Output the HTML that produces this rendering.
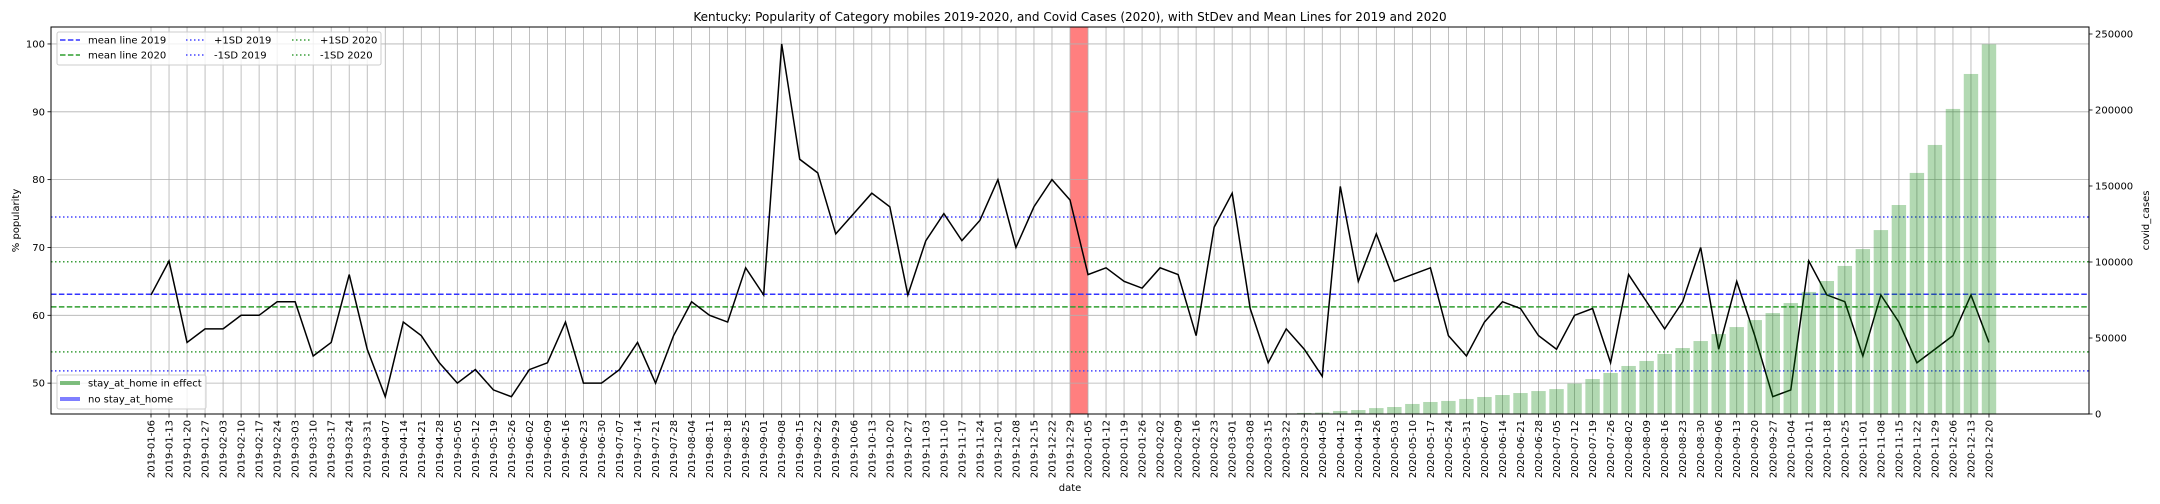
<!DOCTYPE html>
<html><head><meta charset="utf-8"><style>
html,body{margin:0;padding:0;background:#fff;}
svg{display:block;font-family:"DejaVu Sans","Liberation Sans",sans-serif;}
</style></head><body>
<svg id="chart" width="2160" height="504" xmlns="http://www.w3.org/2000/svg">
<rect width="2160" height="504" fill="#fff"/>
<g id="plot"></g>
</svg>
<script>
const startDate = "2019-01-06";
const popularity = [63,68,56,58,58,60,60,62,62,54,
56,66,55,48,59,57,53,50,52,49,
48,52,53,59,50,50,52,56,50,57,
62,60,59,67,63,100,83,81,72,75,
78,76,63,71,75,71,74,80,70,76,
80,77,66,67,65,64,67,66,57,73,
78,61,53,58,55,51,79,65,72,65,
66,67,57,54,59,62,61,57,55,60,
61,53,66,62,58,62,70,55,65,57,
48,49,68,63,62,54,63,59,53,55,
57,63,56];
const covidCases = [0,0,0,0,0,0,0,0,0,0,
0,0,0,0,0,0,0,0,0,0,
0,0,0,0,0,0,0,0,0,0,
0,0,0,0,0,0,0,0,0,0,
0,0,0,0,0,0,0,0,0,0,
0,0,0,0,0,0,0,0,0,0,
0,0,0,300,700,900,2000,2600,3900,4600,
6600,7900,8600,9900,11200,12500,13800,15100,16400,20000,
23000,27000,31600,34900,39500,43400,48000,52600,57200,61800,
66400,73000,80300,87500,97400,108500,121000,137500,158600,177000,
200700,223700,243200];
const leftTicks = [50,60,70,80,90,100];
const rightTicks = [0,50000,100000,150000,200000,250000];
const mean2019 = 63.1, plus1sd2019 = 74.5, minus1sd2019 = 51.8;
const mean2020 = 61.25, plus1sd2020 = 67.9, minus1sd2020 = 54.6;
const lockdownStartIndex = 51, lockdownEndIndex = 52;

const NS = "http://www.w3.org/2000/svg";
const plot = document.getElementById("plot");
const L = 51, R = 2089, T = 27, B = 414;
const n = popularity.length;
const xMin = -5.55, xMax = (n - 1) + 5.55;
const yMin = 45.45, yMax = 102.5;
const y2Max = 254600;
function xs(i){ return L + (i - xMin) / (xMax - xMin) * (R - L); }
function ys(v){ return B - (v - yMin) / (yMax - yMin) * (B - T); }
function ys2(v){ return B - v / y2Max * (B - T); }
function mk(tag, attrs, parent){
  const e = document.createElementNS(NS, tag);
  for (const k in attrs) e.setAttribute(k, attrs[k]);
  (parent || plot).appendChild(e);
  return e;
}
const dates = [];
{
  const d0 = new Date(startDate + "T00:00:00Z");
  for (let i = 0; i < n; i++) {
    const d = new Date(d0.getTime() + i * 7 * 86400000);
    dates.push(d.toISOString().slice(0, 10));
  }
}

// red span
const span = mk("rect", {x: xs(lockdownStartIndex), y: T, width: xs(lockdownEndIndex) - xs(lockdownStartIndex), height: B - T, fill: "#ff0000", "fill-opacity": 0.5});



// grid
for (let i = 0; i < n; i++) {
  const g = mk("line", {x1: xs(i), x2: xs(i), y1: T, y2: B, stroke: "#b0b0b0", "stroke-width": 0.8});
  
  
}
leftTicks.forEach(v => {
  const g = mk("line", {x1: L, x2: R, y1: ys(v), y2: ys(v), stroke: "#b0b0b0", "stroke-width": 0.8});
  
  
});

// reference lines
function hline(v, color, dash, name){
  const l = mk("line", {x1: L, x2: R, y1: ys(v), y2: ys(v), stroke: color, "stroke-width": 1.5, "stroke-dasharray": dash});
  
  
}
hline(mean2019, "#3333ff", "5.5,2.4", "mean-line-2019");
hline(mean2020, "#2e9e2e", "5.5,2.4", "mean-line-2020");
hline(plus1sd2019, "#4444ff", "1.5,2.5", "plus-1sd-2019");
hline(minus1sd2019, "#4444ff", "1.5,2.5", "minus-1sd-2019");
hline(plus1sd2020, "#3a9e3a", "1.5,2.5", "plus-1sd-2020");
hline(minus1sd2020, "#3a9e3a", "1.5,2.5", "minus-1sd-2020");

// popularity line
const pts = popularity.map((v, i) => xs(i).toFixed(2) + "," + ys(v).toFixed(2)).join(" ");
const pl = mk("polyline", {points: pts, fill: "none", stroke: "#000", "stroke-width": 1.5, "stroke-linejoin": "miter"});



// covid bars
const bw = (xs(1) - xs(0)) * 0.8;
covidCases.forEach((v, i) => {
  if (v <= 0) return;
  const b = mk("rect", {x: xs(i) - bw / 2, y: ys2(v), width: bw, height: B - ys2(v), fill: "#008000", "fill-opacity": 0.3});
  
  
});

// axes frame
const frame = mk("rect", {x: L, y: T, width: R - L, height: B - T, fill: "none", stroke: "#000", "stroke-width": 1});



// left ticks
leftTicks.forEach(v => {
  const t = mk("line", {x1: L - 3.5, x2: L, y1: ys(v), y2: ys(v), stroke: "#000", "stroke-width": 0.8});
  
  
  const tx = mk("text", {x: L - 6, y: ys(v) + 3.5, "font-size": 10, "text-anchor": "end", fill: "#000"});
  tx.textContent = v;
  
  
});
// right ticks
rightTicks.forEach(v => {
  const t = mk("line", {x1: R, x2: R + 3.5, y1: ys2(v), y2: ys2(v), stroke: "#000", "stroke-width": 0.8});
  
  
  const tx = mk("text", {x: R + 6, y: ys2(v) + 3.5, "font-size": 10, "text-anchor": "start", fill: "#000"});
  tx.textContent = v;
  
  
});
// x ticks
dates.forEach((d, i) => {
  const t = mk("line", {x1: xs(i), x2: xs(i), y1: B, y2: B + 3.5, stroke: "#000", "stroke-width": 0.8});
  
  
  const tx = mk("text", {transform: "translate(" + (xs(i) + 3.5) + "," + (B + 6) + ") rotate(-90)", "font-size": 10, "text-anchor": "end", fill: "#000"});
  tx.textContent = d;
  
  
});

// titles
let e;
e = mk("text", {x: (L + R) / 2, y: 21, "font-size": 12, "text-anchor": "middle", fill: "#000"});
e.textContent = "Kentucky: Popularity of Category mobiles 2019-2020, and Covid Cases (2020), with StDev and Mean Lines for 2019 and 2020";


e = mk("text", {x: (L + R) / 2, y: 491, "font-size": 10, "text-anchor": "middle", fill: "#000"});
e.textContent = "date";


e = mk("text", {transform: "translate(19," + (T + B) / 2 + ") rotate(-90)", "font-size": 10, "text-anchor": "middle", fill: "#000"});
e.textContent = "% popularity";


e = mk("text", {transform: "translate(2149," + (T + B) / 2 + ") rotate(-90)", "font-size": 10, "text-anchor": "middle", fill: "#000"});
e.textContent = "covid_cases";



// legend 1
const lg1 = mk("g", {});


mk("rect", {x: 57, y: 32, width: 324, height: 33, rx: 2, fill: "#fff", "fill-opacity": 0.8, stroke: "#cccccc", "stroke-width": 1}, lg1);
const entries1 = [
  [60, 40, "#3333ff", "5.5,2.4", "mean line 2019"],
  [60, 55, "#2e9e2e", "5.5,2.4", "mean line 2020"],
  [186, 40, "#4444ff", "1.5,2.5", "+1SD 2019"],
  [186, 55, "#4444ff", "1.5,2.5", "-1SD 2019"],
  [292, 40, "#3a9e3a", "1.5,2.5", "+1SD 2020"],
  [292, 55, "#3a9e3a", "1.5,2.5", "-1SD 2020"]
];
entries1.forEach(en => {
  const g = mk("g", {}, lg1);
  
  
  mk("line", {x1: en[0], x2: en[0] + 20, y1: en[1], y2: en[1], stroke: en[2], "stroke-width": 1.5, "stroke-dasharray": en[3]}, g);
  const t = mk("text", {x: en[0] + 28, y: en[1] + 3.5, "font-size": 10, fill: "#000"}, g);
  t.textContent = en[4];
});

// legend 2
const lg2 = mk("g", {});


mk("rect", {x: 57, y: 375, width: 149, height: 34, rx: 2, fill: "#fff", "fill-opacity": 0.8, stroke: "#cccccc", "stroke-width": 1}, lg2);
[[383, "#008000", "stay_at_home in effect"], [399, "#0000ff", "no stay_at_home"]].forEach(en => {
  const g = mk("g", {}, lg2);
  
  
  mk("line", {x1: 60, x2: 80, y1: en[0], y2: en[0], stroke: en[1], "stroke-opacity": 0.5, "stroke-width": 4}, g);
  const t = mk("text", {x: 88, y: en[0] + 3.5, "font-size": 10, fill: "#000"}, g);
  t.textContent = en[2];
});
</script>
</body></html>
